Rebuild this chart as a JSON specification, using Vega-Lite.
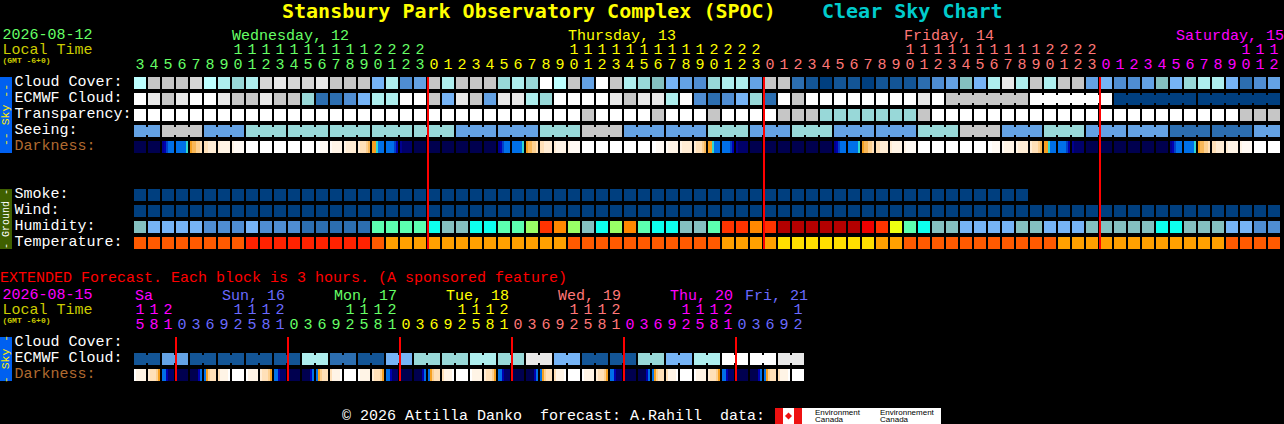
{
"$schema":"https://vega.github.io/schema/vega-lite/v6.json",
"width":1284,"height":424,"autosize":{"type":"none"},"padding":0,"background":"#000000",
"config":{"view":{"stroke":null},"text":{"font":"Liberation Mono","fontSize":15,"baseline":"middle"},
"axis":{"domain":false,"ticks":false,"grid":false,"labelPadding":0,"labelBound":false,"labelFlush":false,"labelOverlap":false,"labelLimit":0,"labelFont":"Liberation Mono","labelFontSize":15,"labelAngle":0,"labelBaseline":"middle","labelFontWeight":"normal"}},
"encoding":{"color":{"field":"lv","type":"nominal","legend":null,"scale":{
"domain":["a","b","c","d","e","f","g","h","i","j","k","l","m","n","cy","mi","li","ro","or","dr","rd","yl","t1","t2","t3","t4","n0","n1","n2","n3","n4","bl","ci","o0","o1","o2","o3","o4","o5","o6","w","green","yellow","salmon","magenta","violet","cyan"],
"range":["#ffffff","#e8e8e8","#d6d6d6","#c6c6c6","#bdffff","#aeeeee","#98d8d8","#84c0c0","#76b4f6","#64a2e4","#4f8dd2","#2c6eb0","#135596","#003f7f","#0dffee","#5cffb0","#99ff66","#ff3300","#ff8800","#b30000","#ee0000","#eeff11","#ff5a00","#ff2200","#ffa000","#ffdf00","#00004f","#00006a","#000090","#0000b0","#0040c8","#0070e8","#30d8d0","#f5a020","#f9b858","#fdd090","#ffe0b8","#ffecd4","#fff4e6","#fffaf4","#ffffff","#66ff66","#ffff00","#ff7777","#ff00ff","#6a6aff","#00cccc"]}}},
"datasets":{
"cells":[
{"row":"Cloud","col":0,"lv":"e"},{"row":"Cloud","col":1,"lv":"d"},{"row":"Cloud","col":2,"lv":"d"},{"row":"Cloud","col":3,"lv":"d"},{"row":"Cloud","col":4,"lv":"c"},{"row":"Cloud","col":5,"lv":"e"},{"row":"Cloud","col":6,"lv":"f"},{"row":"Cloud","col":7,"lv":"g"},{"row":"Cloud","col":8,"lv":"f"},{"row":"Cloud","col":9,"lv":"c"},{"row":"Cloud","col":10,"lv":"b"},{"row":"Cloud","col":11,"lv":"c"},{"row":"Cloud","col":12,"lv":"c"},{"row":"Cloud","col":13,"lv":"b"},{"row":"Cloud","col":14,"lv":"d"},{"row":"Cloud","col":15,"lv":"d"},{"row":"Cloud","col":16,"lv":"d"},{"row":"Cloud","col":17,"lv":"i"},{"row":"Cloud","col":18,"lv":"f"},{"row":"Cloud","col":19,"lv":"k"},{"row":"Cloud","col":20,"lv":"j"},
{"row":"Cloud","col":21,"lv":"d"},{"row":"Cloud","col":22,"lv":"f"},{"row":"Cloud","col":23,"lv":"d"},{"row":"Cloud","col":24,"lv":"d"},{"row":"Cloud","col":25,"lv":"d"},{"row":"Cloud","col":26,"lv":"g"},{"row":"Cloud","col":27,"lv":"f"},{"row":"Cloud","col":28,"lv":"g"},{"row":"Cloud","col":29,"lv":"a"},{"row":"Cloud","col":30,"lv":"e"},{"row":"Cloud","col":31,"lv":"d"},{"row":"Cloud","col":32,"lv":"j"},{"row":"Cloud","col":33,"lv":"a"},{"row":"Cloud","col":34,"lv":"d"},{"row":"Cloud","col":35,"lv":"f"},{"row":"Cloud","col":36,"lv":"g"},{"row":"Cloud","col":37,"lv":"h"},{"row":"Cloud","col":38,"lv":"i"},{"row":"Cloud","col":39,"lv":"j"},{"row":"Cloud","col":40,"lv":"k"},{"row":"Cloud","col":41,"lv":"g"},{"row":"Cloud","col":42,"lv":"f"},{"row":"Cloud","col":43,"lv":"f"},{"row":"Cloud","col":44,"lv":"j"},
{"row":"Cloud","col":45,"lv":"d"},{"row":"Cloud","col":46,"lv":"d"},{"row":"Cloud","col":47,"lv":"l"},{"row":"Cloud","col":48,"lv":"m"},{"row":"Cloud","col":49,"lv":"n"},{"row":"Cloud","col":50,"lv":"m"},{"row":"Cloud","col":51,"lv":"m"},{"row":"Cloud","col":52,"lv":"n"},{"row":"Cloud","col":53,"lv":"m"},{"row":"Cloud","col":54,"lv":"m"},{"row":"Cloud","col":55,"lv":"m"},{"row":"Cloud","col":56,"lv":"l"},{"row":"Cloud","col":57,"lv":"k"},{"row":"Cloud","col":58,"lv":"j"},{"row":"Cloud","col":59,"lv":"h"},{"row":"Cloud","col":60,"lv":"i"},{"row":"Cloud","col":61,"lv":"f"},{"row":"Cloud","col":62,"lv":"b"},{"row":"Cloud","col":63,"lv":"f"},{"row":"Cloud","col":64,"lv":"d"},{"row":"Cloud","col":65,"lv":"f"},{"row":"Cloud","col":66,"lv":"d"},{"row":"Cloud","col":67,"lv":"d"},{"row":"Cloud","col":68,"lv":"j"},{"row":"Cloud","col":69,"lv":"i"},{"row":"Cloud","col":70,"lv":"k"},{"row":"Cloud","col":71,"lv":"k"},{"row":"Cloud","col":72,"lv":"j"},{"row":"Cloud","col":73,"lv":"h"},{"row":"Cloud","col":74,"lv":"i"},{"row":"Cloud","col":75,"lv":"g"},{"row":"Cloud","col":76,"lv":"f"},{"row":"Cloud","col":77,"lv":"f"},{"row":"Cloud","col":78,"lv":"i"},{"row":"Cloud","col":79,"lv":"l"},{"row":"Cloud","col":80,"lv":"k"},{"row":"Cloud","col":81,"lv":"j"},
{"row":"ECMWF","col":0,"lv":"a"},{"row":"ECMWF","col":1,"lv":"b"},{"row":"ECMWF","col":2,"lv":"d"},{"row":"ECMWF","col":3,"lv":"b"},{"row":"ECMWF","col":4,"lv":"a"},{"row":"ECMWF","col":5,"lv":"a"},{"row":"ECMWF","col":6,"lv":"b"},{"row":"ECMWF","col":7,"lv":"d"},{"row":"ECMWF","col":8,"lv":"d"},{"row":"ECMWF","col":9,"lv":"b"},{"row":"ECMWF","col":10,"lv":"d"},{"row":"ECMWF","col":11,"lv":"d"},{"row":"ECMWF","col":12,"lv":"g"},{"row":"ECMWF","col":13,"lv":"l"},{"row":"ECMWF","col":14,"lv":"l"},{"row":"ECMWF","col":15,"lv":"k"},{"row":"ECMWF","col":16,"lv":"i"},{"row":"ECMWF","col":17,"lv":"f"},{"row":"ECMWF","col":18,"lv":"f"},{"row":"ECMWF","col":19,"lv":"a"},{"row":"ECMWF","col":20,"lv":"a"},
{"row":"ECMWF","col":21,"lv":"d"},{"row":"ECMWF","col":22,"lv":"i"},{"row":"ECMWF","col":23,"lv":"b"},{"row":"ECMWF","col":24,"lv":"d"},{"row":"ECMWF","col":25,"lv":"j"},{"row":"ECMWF","col":26,"lv":"b"},{"row":"ECMWF","col":27,"lv":"b"},{"row":"ECMWF","col":28,"lv":"f"},{"row":"ECMWF","col":29,"lv":"g"},{"row":"ECMWF","col":30,"lv":"a"},{"row":"ECMWF","col":31,"lv":"a"},{"row":"ECMWF","col":32,"lv":"a"},{"row":"ECMWF","col":33,"lv":"a"},{"row":"ECMWF","col":34,"lv":"b"},{"row":"ECMWF","col":35,"lv":"d"},{"row":"ECMWF","col":36,"lv":"b"},{"row":"ECMWF","col":37,"lv":"b"},{"row":"ECMWF","col":38,"lv":"f"},{"row":"ECMWF","col":39,"lv":"a"},{"row":"ECMWF","col":40,"lv":"k"},{"row":"ECMWF","col":41,"lv":"l"},{"row":"ECMWF","col":42,"lv":"k"},{"row":"ECMWF","col":43,"lv":"i"},{"row":"ECMWF","col":44,"lv":"g"},
{"row":"ECMWF","col":45,"lv":"l"},{"row":"ECMWF","col":46,"lv":"a"},{"row":"ECMWF","col":47,"lv":"d"},{"row":"ECMWF","col":48,"lv":"a"},{"row":"ECMWF","col":49,"lv":"a"},{"row":"ECMWF","col":50,"lv":"a"},{"row":"ECMWF","col":51,"lv":"a"},{"row":"ECMWF","col":52,"lv":"a"},{"row":"ECMWF","col":53,"lv":"a"},{"row":"ECMWF","col":54,"lv":"a"},{"row":"ECMWF","col":55,"lv":"a"},{"row":"ECMWF","col":56,"lv":"b"},{"row":"ECMWF","col":57,"lv":"a"},{"row":"ECMWF","col":58,"lv":"d"},{"row":"ECMWF","col":59,"lv":"d"},{"row":"ECMWF","col":60,"lv":"d"},{"row":"ECMWF","col":61,"lv":"d"},{"row":"ECMWF","col":62,"lv":"d"},{"row":"ECMWF","col":63,"lv":"d"},{"row":"ECMWF","col":64,"lv":"a"},{"row":"ECMWF","col":65,"lv":"a"},{"row":"ECMWF","col":66,"lv":"a"},{"row":"ECMWF","col":67,"lv":"a"},{"row":"ECMWF","col":68,"lv":"a"},{"row":"ECMWF","col":69,"lv":"a"},{"row":"ECMWF","col":70,"lv":"n"},{"row":"ECMWF","col":71,"lv":"n"},{"row":"ECMWF","col":72,"lv":"n"},{"row":"ECMWF","col":73,"lv":"n"},{"row":"ECMWF","col":74,"lv":"n"},{"row":"ECMWF","col":75,"lv":"n"},{"row":"ECMWF","col":76,"lv":"n"},{"row":"ECMWF","col":77,"lv":"n"},{"row":"ECMWF","col":78,"lv":"n"},{"row":"ECMWF","col":79,"lv":"n"},{"row":"ECMWF","col":80,"lv":"n"},{"row":"ECMWF","col":81,"lv":"n"},
{"row":"Transp","col":0,"lv":"a"},{"row":"Transp","col":1,"lv":"a"},{"row":"Transp","col":2,"lv":"a"},{"row":"Transp","col":3,"lv":"a"},{"row":"Transp","col":4,"lv":"a"},{"row":"Transp","col":5,"lv":"a"},{"row":"Transp","col":6,"lv":"a"},{"row":"Transp","col":7,"lv":"a"},{"row":"Transp","col":8,"lv":"a"},{"row":"Transp","col":9,"lv":"a"},{"row":"Transp","col":10,"lv":"a"},{"row":"Transp","col":11,"lv":"a"},{"row":"Transp","col":12,"lv":"a"},{"row":"Transp","col":13,"lv":"a"},{"row":"Transp","col":14,"lv":"a"},{"row":"Transp","col":15,"lv":"a"},{"row":"Transp","col":16,"lv":"a"},{"row":"Transp","col":17,"lv":"a"},{"row":"Transp","col":18,"lv":"a"},{"row":"Transp","col":19,"lv":"a"},{"row":"Transp","col":20,"lv":"a"},{"row":"Transp","col":21,"lv":"a"},{"row":"Transp","col":22,"lv":"a"},{"row":"Transp","col":23,"lv":"a"},{"row":"Transp","col":24,"lv":"a"},{"row":"Transp","col":25,"lv":"a"},{"row":"Transp","col":26,"lv":"a"},{"row":"Transp","col":27,"lv":"a"},{"row":"Transp","col":28,"lv":"a"},{"row":"Transp","col":29,"lv":"a"},{"row":"Transp","col":30,"lv":"a"},{"row":"Transp","col":31,"lv":"a"},{"row":"Transp","col":32,"lv":"d"},{"row":"Transp","col":33,"lv":"a"},{"row":"Transp","col":34,"lv":"a"},{"row":"Transp","col":35,"lv":"a"},{"row":"Transp","col":36,"lv":"a"},{"row":"Transp","col":37,"lv":"d"},{"row":"Transp","col":38,"lv":"a"},{"row":"Transp","col":39,"lv":"a"},{"row":"Transp","col":40,"lv":"a"},{"row":"Transp","col":41,"lv":"d"},{"row":"Transp","col":42,"lv":"a"},{"row":"Transp","col":43,"lv":"a"},{"row":"Transp","col":44,"lv":"a"},{"row":"Transp","col":45,"lv":"a"},{"row":"Transp","col":46,"lv":"d"},{"row":"Transp","col":47,"lv":"d"},{"row":"Transp","col":48,"lv":"d"},{"row":"Transp","col":49,"lv":"g"},{"row":"Transp","col":50,"lv":"g"},{"row":"Transp","col":51,"lv":"g"},{"row":"Transp","col":52,"lv":"g"},{"row":"Transp","col":53,"lv":"g"},{"row":"Transp","col":54,"lv":"g"},{"row":"Transp","col":55,"lv":"g"},{"row":"Transp","col":56,"lv":"d"},{"row":"Transp","col":57,"lv":"a"},{"row":"Transp","col":58,"lv":"a"},{"row":"Transp","col":59,"lv":"a"},{"row":"Transp","col":60,"lv":"a"},{"row":"Transp","col":61,"lv":"a"},{"row":"Transp","col":62,"lv":"a"},{"row":"Transp","col":63,"lv":"a"},{"row":"Transp","col":64,"lv":"a"},{"row":"Transp","col":65,"lv":"a"},{"row":"Transp","col":66,"lv":"a"},{"row":"Transp","col":67,"lv":"a"},{"row":"Transp","col":68,"lv":"a"},{"row":"Transp","col":69,"lv":"a"},{"row":"Transp","col":70,"lv":"a"},{"row":"Transp","col":71,"lv":"a"},{"row":"Transp","col":72,"lv":"a"},{"row":"Transp","col":73,"lv":"a"},{"row":"Transp","col":74,"lv":"a"},{"row":"Transp","col":75,"lv":"a"},{"row":"Transp","col":76,"lv":"a"},{"row":"Transp","col":77,"lv":"a"},{"row":"Transp","col":78,"lv":"a"},{"row":"Transp","col":79,"lv":"d"},{"row":"Transp","col":80,"lv":"d"},{"row":"Transp","col":81,"lv":"d"},
{"row":"Seeing","col":0,"lv":"j"},{"row":"Seeing","col":1,"lv":"j"},{"row":"Seeing","col":2,"lv":"d"},{"row":"Seeing","col":3,"lv":"d"},{"row":"Seeing","col":4,"lv":"d"},{"row":"Seeing","col":5,"lv":"j"},{"row":"Seeing","col":6,"lv":"j"},{"row":"Seeing","col":7,"lv":"j"},{"row":"Seeing","col":8,"lv":"g"},{"row":"Seeing","col":9,"lv":"g"},{"row":"Seeing","col":10,"lv":"g"},{"row":"Seeing","col":11,"lv":"g"},{"row":"Seeing","col":12,"lv":"g"},{"row":"Seeing","col":13,"lv":"g"},{"row":"Seeing","col":14,"lv":"g"},{"row":"Seeing","col":15,"lv":"g"},{"row":"Seeing","col":16,"lv":"g"},{"row":"Seeing","col":17,"lv":"g"},{"row":"Seeing","col":18,"lv":"g"},{"row":"Seeing","col":19,"lv":"g"},{"row":"Seeing","col":20,"lv":"g"},{"row":"Seeing","col":21,"lv":"g"},{"row":"Seeing","col":22,"lv":"g"},{"row":"Seeing","col":23,"lv":"j"},{"row":"Seeing","col":24,"lv":"j"},{"row":"Seeing","col":25,"lv":"j"},{"row":"Seeing","col":26,"lv":"j"},{"row":"Seeing","col":27,"lv":"j"},{"row":"Seeing","col":28,"lv":"j"},{"row":"Seeing","col":29,"lv":"g"},{"row":"Seeing","col":30,"lv":"g"},{"row":"Seeing","col":31,"lv":"g"},{"row":"Seeing","col":32,"lv":"d"},{"row":"Seeing","col":33,"lv":"d"},{"row":"Seeing","col":34,"lv":"d"},{"row":"Seeing","col":35,"lv":"j"},{"row":"Seeing","col":36,"lv":"j"},{"row":"Seeing","col":37,"lv":"j"},{"row":"Seeing","col":38,"lv":"j"},{"row":"Seeing","col":39,"lv":"j"},{"row":"Seeing","col":40,"lv":"j"},{"row":"Seeing","col":41,"lv":"g"},{"row":"Seeing","col":42,"lv":"g"},{"row":"Seeing","col":43,"lv":"g"},{"row":"Seeing","col":44,"lv":"j"},{"row":"Seeing","col":45,"lv":"j"},{"row":"Seeing","col":46,"lv":"j"},{"row":"Seeing","col":47,"lv":"g"},{"row":"Seeing","col":48,"lv":"g"},{"row":"Seeing","col":49,"lv":"g"},{"row":"Seeing","col":50,"lv":"j"},{"row":"Seeing","col":51,"lv":"j"},{"row":"Seeing","col":52,"lv":"j"},{"row":"Seeing","col":53,"lv":"j"},{"row":"Seeing","col":54,"lv":"j"},{"row":"Seeing","col":55,"lv":"j"},{"row":"Seeing","col":56,"lv":"g"},{"row":"Seeing","col":57,"lv":"g"},{"row":"Seeing","col":58,"lv":"g"},{"row":"Seeing","col":59,"lv":"d"},{"row":"Seeing","col":60,"lv":"d"},{"row":"Seeing","col":61,"lv":"d"},{"row":"Seeing","col":62,"lv":"j"},{"row":"Seeing","col":63,"lv":"j"},{"row":"Seeing","col":64,"lv":"j"},{"row":"Seeing","col":65,"lv":"g"},{"row":"Seeing","col":66,"lv":"g"},{"row":"Seeing","col":67,"lv":"g"},{"row":"Seeing","col":68,"lv":"j"},{"row":"Seeing","col":69,"lv":"j"},{"row":"Seeing","col":70,"lv":"j"},{"row":"Seeing","col":71,"lv":"j"},{"row":"Seeing","col":72,"lv":"j"},{"row":"Seeing","col":73,"lv":"j"},{"row":"Seeing","col":74,"lv":"l"},{"row":"Seeing","col":75,"lv":"l"},{"row":"Seeing","col":76,"lv":"l"},{"row":"Seeing","col":77,"lv":"l"},{"row":"Seeing","col":78,"lv":"l"},{"row":"Seeing","col":79,"lv":"l"},{"row":"Seeing","col":80,"lv":"j"},{"row":"Seeing","col":81,"lv":"j"},
{"row":"Dark","col":0,"lv":"n0"},{"row":"Dark","col":1,"lv":"n0"},{"row":"Dark","col":2,"lv":"bl"},{"row":"Dark","col":3,"lv":"bl"},{"row":"Dark","col":4,"lv":"o3"},{"row":"Dark","col":5,"lv":"o4"},{"row":"Dark","col":6,"lv":"o5"},{"row":"Dark","col":7,"lv":"o6"},{"row":"Dark","col":8,"lv":"w"},{"row":"Dark","col":9,"lv":"w"},{"row":"Dark","col":10,"lv":"w"},{"row":"Dark","col":11,"lv":"w"},{"row":"Dark","col":12,"lv":"w"},{"row":"Dark","col":13,"lv":"o6"},{"row":"Dark","col":14,"lv":"o5"},{"row":"Dark","col":15,"lv":"o4"},{"row":"Dark","col":16,"lv":"o3"},{"row":"Dark","col":17,"lv":"bl"},{"row":"Dark","col":18,"lv":"bl"},{"row":"Dark","col":19,"lv":"n1"},{"row":"Dark","col":20,"lv":"n0"},{"row":"Dark","col":21,"lv":"n0"},{"row":"Dark","col":22,"lv":"n0"},{"row":"Dark","col":23,"lv":"n0"},{"row":"Dark","col":24,"lv":"n0"},{"row":"Dark","col":25,"lv":"n0"},{"row":"Dark","col":26,"lv":"bl"},{"row":"Dark","col":27,"lv":"bl"},{"row":"Dark","col":28,"lv":"o3"},{"row":"Dark","col":29,"lv":"o4"},{"row":"Dark","col":30,"lv":"o5"},{"row":"Dark","col":31,"lv":"o6"},{"row":"Dark","col":32,"lv":"w"},{"row":"Dark","col":33,"lv":"w"},{"row":"Dark","col":34,"lv":"w"},{"row":"Dark","col":35,"lv":"w"},{"row":"Dark","col":36,"lv":"w"},{"row":"Dark","col":37,"lv":"o6"},{"row":"Dark","col":38,"lv":"o5"},{"row":"Dark","col":39,"lv":"o4"},{"row":"Dark","col":40,"lv":"o3"},{"row":"Dark","col":41,"lv":"bl"},{"row":"Dark","col":42,"lv":"bl"},{"row":"Dark","col":43,"lv":"n1"},{"row":"Dark","col":44,"lv":"n0"},{"row":"Dark","col":45,"lv":"n0"},{"row":"Dark","col":46,"lv":"n0"},{"row":"Dark","col":47,"lv":"n0"},{"row":"Dark","col":48,"lv":"n0"},{"row":"Dark","col":49,"lv":"n0"},{"row":"Dark","col":50,"lv":"bl"},{"row":"Dark","col":51,"lv":"bl"},{"row":"Dark","col":52,"lv":"o3"},{"row":"Dark","col":53,"lv":"o4"},{"row":"Dark","col":54,"lv":"o5"},{"row":"Dark","col":55,"lv":"o6"},{"row":"Dark","col":56,"lv":"w"},{"row":"Dark","col":57,"lv":"w"},{"row":"Dark","col":58,"lv":"w"},{"row":"Dark","col":59,"lv":"w"},{"row":"Dark","col":60,"lv":"w"},{"row":"Dark","col":61,"lv":"o6"},{"row":"Dark","col":62,"lv":"o5"},{"row":"Dark","col":63,"lv":"o4"},{"row":"Dark","col":64,"lv":"o3"},{"row":"Dark","col":65,"lv":"bl"},{"row":"Dark","col":66,"lv":"bl"},{"row":"Dark","col":67,"lv":"n1"},{"row":"Dark","col":68,"lv":"n0"},{"row":"Dark","col":69,"lv":"n0"},{"row":"Dark","col":70,"lv":"n0"},{"row":"Dark","col":71,"lv":"n0"},{"row":"Dark","col":72,"lv":"n0"},{"row":"Dark","col":73,"lv":"n0"},{"row":"Dark","col":74,"lv":"bl"},{"row":"Dark","col":75,"lv":"bl"},{"row":"Dark","col":76,"lv":"o3"},{"row":"Dark","col":77,"lv":"o4"},{"row":"Dark","col":78,"lv":"o5"},{"row":"Dark","col":79,"lv":"o6"},{"row":"Dark","col":80,"lv":"w"},{"row":"Dark","col":81,"lv":"w"},
{"row":"Smoke","col":0,"lv":"n"},{"row":"Smoke","col":1,"lv":"n"},{"row":"Smoke","col":2,"lv":"n"},{"row":"Smoke","col":3,"lv":"n"},{"row":"Smoke","col":4,"lv":"n"},{"row":"Smoke","col":5,"lv":"n"},{"row":"Smoke","col":6,"lv":"n"},{"row":"Smoke","col":7,"lv":"n"},{"row":"Smoke","col":8,"lv":"n"},{"row":"Smoke","col":9,"lv":"n"},{"row":"Smoke","col":10,"lv":"n"},{"row":"Smoke","col":11,"lv":"n"},{"row":"Smoke","col":12,"lv":"n"},{"row":"Smoke","col":13,"lv":"n"},{"row":"Smoke","col":14,"lv":"n"},{"row":"Smoke","col":15,"lv":"n"},{"row":"Smoke","col":16,"lv":"n"},{"row":"Smoke","col":17,"lv":"n"},{"row":"Smoke","col":18,"lv":"n"},{"row":"Smoke","col":19,"lv":"n"},{"row":"Smoke","col":20,"lv":"n"},{"row":"Smoke","col":21,"lv":"n"},{"row":"Smoke","col":22,"lv":"n"},{"row":"Smoke","col":23,"lv":"n"},{"row":"Smoke","col":24,"lv":"n"},{"row":"Smoke","col":25,"lv":"n"},{"row":"Smoke","col":26,"lv":"n"},{"row":"Smoke","col":27,"lv":"n"},{"row":"Smoke","col":28,"lv":"n"},{"row":"Smoke","col":29,"lv":"n"},{"row":"Smoke","col":30,"lv":"n"},{"row":"Smoke","col":31,"lv":"n"},{"row":"Smoke","col":32,"lv":"n"},{"row":"Smoke","col":33,"lv":"n"},{"row":"Smoke","col":34,"lv":"n"},{"row":"Smoke","col":35,"lv":"n"},{"row":"Smoke","col":36,"lv":"n"},{"row":"Smoke","col":37,"lv":"n"},{"row":"Smoke","col":38,"lv":"n"},{"row":"Smoke","col":39,"lv":"n"},{"row":"Smoke","col":40,"lv":"n"},{"row":"Smoke","col":41,"lv":"n"},{"row":"Smoke","col":42,"lv":"n"},{"row":"Smoke","col":43,"lv":"n"},{"row":"Smoke","col":44,"lv":"n"},{"row":"Smoke","col":45,"lv":"n"},{"row":"Smoke","col":46,"lv":"n"},{"row":"Smoke","col":47,"lv":"n"},{"row":"Smoke","col":48,"lv":"n"},{"row":"Smoke","col":49,"lv":"n"},{"row":"Smoke","col":50,"lv":"n"},{"row":"Smoke","col":51,"lv":"n"},{"row":"Smoke","col":52,"lv":"n"},{"row":"Smoke","col":53,"lv":"n"},{"row":"Smoke","col":54,"lv":"n"},{"row":"Smoke","col":55,"lv":"n"},{"row":"Smoke","col":56,"lv":"n"},{"row":"Smoke","col":57,"lv":"n"},{"row":"Smoke","col":58,"lv":"n"},{"row":"Smoke","col":59,"lv":"n"},{"row":"Smoke","col":60,"lv":"n"},{"row":"Smoke","col":61,"lv":"n"},{"row":"Smoke","col":62,"lv":"n"},{"row":"Smoke","col":63,"lv":"n"},
{"row":"Wind","col":0,"lv":"n"},{"row":"Wind","col":1,"lv":"n"},{"row":"Wind","col":2,"lv":"n"},{"row":"Wind","col":3,"lv":"n"},{"row":"Wind","col":4,"lv":"n"},{"row":"Wind","col":5,"lv":"n"},{"row":"Wind","col":6,"lv":"n"},{"row":"Wind","col":7,"lv":"n"},{"row":"Wind","col":8,"lv":"n"},{"row":"Wind","col":9,"lv":"n"},{"row":"Wind","col":10,"lv":"n"},{"row":"Wind","col":11,"lv":"n"},{"row":"Wind","col":12,"lv":"n"},{"row":"Wind","col":13,"lv":"n"},{"row":"Wind","col":14,"lv":"n"},{"row":"Wind","col":15,"lv":"n"},{"row":"Wind","col":16,"lv":"n"},{"row":"Wind","col":17,"lv":"n"},{"row":"Wind","col":18,"lv":"n"},{"row":"Wind","col":19,"lv":"n"},{"row":"Wind","col":20,"lv":"n"},{"row":"Wind","col":21,"lv":"n"},{"row":"Wind","col":22,"lv":"n"},{"row":"Wind","col":23,"lv":"n"},{"row":"Wind","col":24,"lv":"n"},{"row":"Wind","col":25,"lv":"n"},{"row":"Wind","col":26,"lv":"n"},{"row":"Wind","col":27,"lv":"n"},{"row":"Wind","col":28,"lv":"n"},{"row":"Wind","col":29,"lv":"n"},{"row":"Wind","col":30,"lv":"n"},{"row":"Wind","col":31,"lv":"n"},{"row":"Wind","col":32,"lv":"n"},{"row":"Wind","col":33,"lv":"n"},{"row":"Wind","col":34,"lv":"n"},{"row":"Wind","col":35,"lv":"n"},{"row":"Wind","col":36,"lv":"n"},{"row":"Wind","col":37,"lv":"n"},{"row":"Wind","col":38,"lv":"n"},{"row":"Wind","col":39,"lv":"n"},{"row":"Wind","col":40,"lv":"n"},{"row":"Wind","col":41,"lv":"n"},{"row":"Wind","col":42,"lv":"n"},{"row":"Wind","col":43,"lv":"n"},{"row":"Wind","col":44,"lv":"n"},{"row":"Wind","col":45,"lv":"n"},{"row":"Wind","col":46,"lv":"n"},{"row":"Wind","col":47,"lv":"n"},{"row":"Wind","col":48,"lv":"n"},{"row":"Wind","col":49,"lv":"n"},{"row":"Wind","col":50,"lv":"n"},{"row":"Wind","col":51,"lv":"n"},{"row":"Wind","col":52,"lv":"n"},{"row":"Wind","col":53,"lv":"n"},{"row":"Wind","col":54,"lv":"n"},{"row":"Wind","col":55,"lv":"n"},{"row":"Wind","col":56,"lv":"n"},{"row":"Wind","col":57,"lv":"n"},{"row":"Wind","col":58,"lv":"n"},{"row":"Wind","col":59,"lv":"n"},{"row":"Wind","col":60,"lv":"n"},{"row":"Wind","col":61,"lv":"n"},{"row":"Wind","col":62,"lv":"n"},{"row":"Wind","col":63,"lv":"n"},{"row":"Wind","col":64,"lv":"n"},{"row":"Wind","col":65,"lv":"n"},{"row":"Wind","col":66,"lv":"n"},{"row":"Wind","col":67,"lv":"n"},{"row":"Wind","col":68,"lv":"n"},{"row":"Wind","col":69,"lv":"n"},{"row":"Wind","col":70,"lv":"n"},{"row":"Wind","col":71,"lv":"n"},{"row":"Wind","col":72,"lv":"n"},{"row":"Wind","col":73,"lv":"n"},{"row":"Wind","col":74,"lv":"n"},{"row":"Wind","col":75,"lv":"n"},{"row":"Wind","col":76,"lv":"n"},{"row":"Wind","col":77,"lv":"n"},{"row":"Wind","col":78,"lv":"n"},{"row":"Wind","col":79,"lv":"n"},{"row":"Wind","col":80,"lv":"n"},{"row":"Wind","col":81,"lv":"n"},
{"row":"Humid","col":0,"lv":"h"},{"row":"Humid","col":1,"lv":"i"},{"row":"Humid","col":2,"lv":"i"},{"row":"Humid","col":3,"lv":"i"},{"row":"Humid","col":4,"lv":"i"},{"row":"Humid","col":5,"lv":"k"},{"row":"Humid","col":6,"lv":"k"},{"row":"Humid","col":7,"lv":"k"},{"row":"Humid","col":8,"lv":"i"},{"row":"Humid","col":9,"lv":"k"},{"row":"Humid","col":10,"lv":"k"},{"row":"Humid","col":11,"lv":"k"},{"row":"Humid","col":12,"lv":"l"},{"row":"Humid","col":13,"lv":"l"},{"row":"Humid","col":14,"lv":"l"},{"row":"Humid","col":15,"lv":"l"},{"row":"Humid","col":16,"lv":"l"},{"row":"Humid","col":17,"lv":"mi"},{"row":"Humid","col":18,"lv":"mi"},{"row":"Humid","col":19,"lv":"mi"},{"row":"Humid","col":20,"lv":"mi"},{"row":"Humid","col":21,"lv":"cy"},{"row":"Humid","col":22,"lv":"h"},{"row":"Humid","col":23,"lv":"h"},{"row":"Humid","col":24,"lv":"cy"},{"row":"Humid","col":25,"lv":"cy"},{"row":"Humid","col":26,"lv":"mi"},{"row":"Humid","col":27,"lv":"mi"},{"row":"Humid","col":28,"lv":"li"},{"row":"Humid","col":29,"lv":"ro"},{"row":"Humid","col":30,"lv":"or"},{"row":"Humid","col":31,"lv":"li"},{"row":"Humid","col":32,"lv":"h"},{"row":"Humid","col":33,"lv":"cy"},{"row":"Humid","col":34,"lv":"li"},{"row":"Humid","col":35,"lv":"or"},{"row":"Humid","col":36,"lv":"mi"},{"row":"Humid","col":37,"lv":"cy"},{"row":"Humid","col":38,"lv":"cy"},{"row":"Humid","col":39,"lv":"h"},{"row":"Humid","col":40,"lv":"h"},{"row":"Humid","col":41,"lv":"mi"},{"row":"Humid","col":42,"lv":"ro"},{"row":"Humid","col":43,"lv":"ro"},{"row":"Humid","col":44,"lv":"or"},{"row":"Humid","col":45,"lv":"ro"},{"row":"Humid","col":46,"lv":"dr"},{"row":"Humid","col":47,"lv":"dr"},{"row":"Humid","col":48,"lv":"dr"},{"row":"Humid","col":49,"lv":"dr"},{"row":"Humid","col":50,"lv":"dr"},{"row":"Humid","col":51,"lv":"dr"},{"row":"Humid","col":52,"lv":"rd"},{"row":"Humid","col":53,"lv":"ro"},{"row":"Humid","col":54,"lv":"yl"},{"row":"Humid","col":55,"lv":"mi"},{"row":"Humid","col":56,"lv":"cy"},{"row":"Humid","col":57,"lv":"h"},{"row":"Humid","col":58,"lv":"h"},{"row":"Humid","col":59,"lv":"i"},{"row":"Humid","col":60,"lv":"i"},{"row":"Humid","col":61,"lv":"i"},{"row":"Humid","col":62,"lv":"i"},{"row":"Humid","col":63,"lv":"h"},{"row":"Humid","col":64,"lv":"h"},{"row":"Humid","col":65,"lv":"i"},{"row":"Humid","col":66,"lv":"i"},{"row":"Humid","col":67,"lv":"i"},{"row":"Humid","col":68,"lv":"h"},{"row":"Humid","col":69,"lv":"h"},{"row":"Humid","col":70,"lv":"h"},{"row":"Humid","col":71,"lv":"h"},{"row":"Humid","col":72,"lv":"h"},{"row":"Humid","col":73,"lv":"cy"},{"row":"Humid","col":74,"lv":"cy"},{"row":"Humid","col":75,"lv":"h"},{"row":"Humid","col":76,"lv":"h"},{"row":"Humid","col":77,"lv":"h"},{"row":"Humid","col":78,"lv":"i"},{"row":"Humid","col":79,"lv":"i"},{"row":"Humid","col":80,"lv":"k"},{"row":"Humid","col":81,"lv":"k"},
{"row":"Temp","col":0,"lv":"t1"},{"row":"Temp","col":1,"lv":"t1"},{"row":"Temp","col":2,"lv":"t1"},{"row":"Temp","col":3,"lv":"t1"},{"row":"Temp","col":4,"lv":"t1"},{"row":"Temp","col":5,"lv":"t1"},{"row":"Temp","col":6,"lv":"t1"},{"row":"Temp","col":7,"lv":"t1"},{"row":"Temp","col":8,"lv":"t2"},{"row":"Temp","col":9,"lv":"t2"},{"row":"Temp","col":10,"lv":"t2"},{"row":"Temp","col":11,"lv":"t2"},{"row":"Temp","col":12,"lv":"t2"},{"row":"Temp","col":13,"lv":"t2"},{"row":"Temp","col":14,"lv":"t2"},{"row":"Temp","col":15,"lv":"t2"},{"row":"Temp","col":16,"lv":"t2"},{"row":"Temp","col":17,"lv":"t1"},{"row":"Temp","col":18,"lv":"t3"},{"row":"Temp","col":19,"lv":"t3"},{"row":"Temp","col":20,"lv":"t3"},{"row":"Temp","col":21,"lv":"t3"},{"row":"Temp","col":22,"lv":"t3"},{"row":"Temp","col":23,"lv":"t3"},{"row":"Temp","col":24,"lv":"t3"},{"row":"Temp","col":25,"lv":"t3"},{"row":"Temp","col":26,"lv":"t3"},{"row":"Temp","col":27,"lv":"t3"},{"row":"Temp","col":28,"lv":"t3"},{"row":"Temp","col":29,"lv":"t3"},{"row":"Temp","col":30,"lv":"t3"},{"row":"Temp","col":31,"lv":"t1"},{"row":"Temp","col":32,"lv":"t1"},{"row":"Temp","col":33,"lv":"t1"},{"row":"Temp","col":34,"lv":"t1"},{"row":"Temp","col":35,"lv":"t1"},{"row":"Temp","col":36,"lv":"t1"},{"row":"Temp","col":37,"lv":"t1"},{"row":"Temp","col":38,"lv":"t1"},{"row":"Temp","col":39,"lv":"t1"},{"row":"Temp","col":40,"lv":"t1"},{"row":"Temp","col":41,"lv":"t1"},{"row":"Temp","col":42,"lv":"t3"},{"row":"Temp","col":43,"lv":"t3"},{"row":"Temp","col":44,"lv":"t3"},{"row":"Temp","col":45,"lv":"t3"},{"row":"Temp","col":46,"lv":"t4"},{"row":"Temp","col":47,"lv":"t4"},{"row":"Temp","col":48,"lv":"t4"},{"row":"Temp","col":49,"lv":"t4"},{"row":"Temp","col":50,"lv":"t4"},{"row":"Temp","col":51,"lv":"t4"},{"row":"Temp","col":52,"lv":"t4"},{"row":"Temp","col":53,"lv":"t3"},{"row":"Temp","col":54,"lv":"t3"},{"row":"Temp","col":55,"lv":"t1"},{"row":"Temp","col":56,"lv":"t1"},{"row":"Temp","col":57,"lv":"t1"},{"row":"Temp","col":58,"lv":"t1"},{"row":"Temp","col":59,"lv":"t1"},{"row":"Temp","col":60,"lv":"t1"},{"row":"Temp","col":61,"lv":"t1"},{"row":"Temp","col":62,"lv":"t1"},{"row":"Temp","col":63,"lv":"t1"},{"row":"Temp","col":64,"lv":"t1"},{"row":"Temp","col":65,"lv":"t1"},{"row":"Temp","col":66,"lv":"t3"},{"row":"Temp","col":67,"lv":"t3"},{"row":"Temp","col":68,"lv":"t3"},{"row":"Temp","col":69,"lv":"t3"},{"row":"Temp","col":70,"lv":"t3"},{"row":"Temp","col":71,"lv":"t3"},{"row":"Temp","col":72,"lv":"t3"},{"row":"Temp","col":73,"lv":"t3"},{"row":"Temp","col":74,"lv":"t3"},{"row":"Temp","col":75,"lv":"t3"},{"row":"Temp","col":76,"lv":"t3"},{"row":"Temp","col":77,"lv":"t3"},{"row":"Temp","col":78,"lv":"t1"},{"row":"Temp","col":79,"lv":"t1"},{"row":"Temp","col":80,"lv":"t1"},{"row":"Temp","col":81,"lv":"t1"}
],
"joins":[
{"row":"Seeing","col":0,"lv":"j"},{"row":"Seeing","col":2,"lv":"d"},{"row":"Seeing","col":3,"lv":"d"},{"row":"Seeing","col":5,"lv":"j"},{"row":"Seeing","col":6,"lv":"j"},{"row":"Seeing","col":8,"lv":"g"},{"row":"Seeing","col":9,"lv":"g"},{"row":"Seeing","col":11,"lv":"g"},{"row":"Seeing","col":12,"lv":"g"},{"row":"Seeing","col":14,"lv":"g"},{"row":"Seeing","col":15,"lv":"g"},{"row":"Seeing","col":17,"lv":"g"},{"row":"Seeing","col":18,"lv":"g"},{"row":"Seeing","col":20,"lv":"g"},{"row":"Seeing","col":21,"lv":"g"},{"row":"Seeing","col":23,"lv":"j"},{"row":"Seeing","col":24,"lv":"j"},{"row":"Seeing","col":26,"lv":"j"},{"row":"Seeing","col":27,"lv":"j"},{"row":"Seeing","col":29,"lv":"g"},{"row":"Seeing","col":30,"lv":"g"},{"row":"Seeing","col":32,"lv":"d"},{"row":"Seeing","col":33,"lv":"d"},{"row":"Seeing","col":35,"lv":"j"},{"row":"Seeing","col":36,"lv":"j"},{"row":"Seeing","col":38,"lv":"j"},{"row":"Seeing","col":39,"lv":"j"},{"row":"Seeing","col":41,"lv":"g"},{"row":"Seeing","col":42,"lv":"g"},{"row":"Seeing","col":44,"lv":"j"},{"row":"Seeing","col":45,"lv":"j"},{"row":"Seeing","col":47,"lv":"g"},{"row":"Seeing","col":48,"lv":"g"},{"row":"Seeing","col":50,"lv":"j"},{"row":"Seeing","col":51,"lv":"j"},{"row":"Seeing","col":53,"lv":"j"},{"row":"Seeing","col":54,"lv":"j"},{"row":"Seeing","col":56,"lv":"g"},{"row":"Seeing","col":57,"lv":"g"},{"row":"Seeing","col":59,"lv":"d"},{"row":"Seeing","col":60,"lv":"d"},{"row":"Seeing","col":62,"lv":"j"},{"row":"Seeing","col":63,"lv":"j"},{"row":"Seeing","col":65,"lv":"g"},{"row":"Seeing","col":66,"lv":"g"},{"row":"Seeing","col":68,"lv":"j"},{"row":"Seeing","col":69,"lv":"j"},{"row":"Seeing","col":71,"lv":"j"},{"row":"Seeing","col":72,"lv":"j"},{"row":"Seeing","col":74,"lv":"l"},{"row":"Seeing","col":75,"lv":"l"},{"row":"Seeing","col":77,"lv":"l"},{"row":"Seeing","col":78,"lv":"l"},{"row":"Seeing","col":80,"lv":"j"},
{"row":"ECMWF","col":58,"lv":"d"},{"row":"ECMWF","col":59,"lv":"d"},{"row":"ECMWF","col":60,"lv":"d"},{"row":"ECMWF","col":61,"lv":"d"},{"row":"ECMWF","col":62,"lv":"d"},{"row":"ECMWF","col":64,"lv":"a"},{"row":"ECMWF","col":65,"lv":"a"},{"row":"ECMWF","col":66,"lv":"a"},{"row":"ECMWF","col":67,"lv":"a"},{"row":"ECMWF","col":68,"lv":"a"},{"row":"ECMWF","col":70,"lv":"n"},{"row":"ECMWF","col":71,"lv":"n"},{"row":"ECMWF","col":72,"lv":"n"},{"row":"ECMWF","col":73,"lv":"n"},{"row":"ECMWF","col":74,"lv":"n"},{"row":"ECMWF","col":76,"lv":"n"},{"row":"ECMWF","col":77,"lv":"n"},{"row":"ECMWF","col":78,"lv":"n"},{"row":"ECMWF","col":79,"lv":"n"},{"row":"ECMWF","col":80,"lv":"n"}
],
"slices":[
{"row":"Dark","col":2,"slice":0,"lv":"n2"},{"row":"Dark","col":2,"slice":1,"lv":"n3"},{"row":"Dark","col":2,"slice":2,"lv":"n4"},{"row":"Dark","col":3,"slice":5,"lv":"ci"},{"row":"Dark","col":4,"slice":0,"lv":"o0"},{"row":"Dark","col":4,"slice":1,"lv":"o1"},{"row":"Dark","col":4,"slice":2,"lv":"o1"},{"row":"Dark","col":4,"slice":3,"lv":"o2"},{"row":"Dark","col":4,"slice":4,"lv":"o2"},{"row":"Dark","col":5,"slice":0,"lv":"o3"},{"row":"Dark","col":5,"slice":1,"lv":"o3"},{"row":"Dark","col":6,"slice":0,"lv":"o4"},{"row":"Dark","col":7,"slice":0,"lv":"o5"},
{"row":"Dark","col":13,"slice":0,"lv":"w"},{"row":"Dark","col":13,"slice":1,"lv":"w"},{"row":"Dark","col":14,"slice":0,"lv":"o6"},{"row":"Dark","col":15,"slice":0,"lv":"o5"},{"row":"Dark","col":16,"slice":0,"lv":"o4"},{"row":"Dark","col":16,"slice":4,"lv":"o2"},{"row":"Dark","col":16,"slice":5,"lv":"o1"},{"row":"Dark","col":17,"slice":0,"lv":"o0"},{"row":"Dark","col":17,"slice":1,"lv":"o0"},{"row":"Dark","col":17,"slice":2,"lv":"ci"},{"row":"Dark","col":18,"slice":4,"lv":"n4"},{"row":"Dark","col":18,"slice":5,"lv":"n3"},{"row":"Dark","col":19,"slice":0,"lv":"n2"},
{"row":"Dark","col":26,"slice":0,"lv":"n2"},{"row":"Dark","col":26,"slice":1,"lv":"n3"},{"row":"Dark","col":26,"slice":2,"lv":"n4"},{"row":"Dark","col":27,"slice":5,"lv":"ci"},{"row":"Dark","col":28,"slice":0,"lv":"o0"},{"row":"Dark","col":28,"slice":1,"lv":"o1"},{"row":"Dark","col":28,"slice":2,"lv":"o1"},{"row":"Dark","col":28,"slice":3,"lv":"o2"},{"row":"Dark","col":28,"slice":4,"lv":"o2"},{"row":"Dark","col":29,"slice":0,"lv":"o3"},{"row":"Dark","col":29,"slice":1,"lv":"o3"},{"row":"Dark","col":30,"slice":0,"lv":"o4"},{"row":"Dark","col":31,"slice":0,"lv":"o5"},
{"row":"Dark","col":37,"slice":0,"lv":"w"},{"row":"Dark","col":37,"slice":1,"lv":"w"},{"row":"Dark","col":38,"slice":0,"lv":"o6"},{"row":"Dark","col":39,"slice":0,"lv":"o5"},{"row":"Dark","col":40,"slice":0,"lv":"o4"},{"row":"Dark","col":40,"slice":4,"lv":"o2"},{"row":"Dark","col":40,"slice":5,"lv":"o1"},{"row":"Dark","col":41,"slice":0,"lv":"o0"},{"row":"Dark","col":41,"slice":1,"lv":"o0"},{"row":"Dark","col":41,"slice":2,"lv":"ci"},{"row":"Dark","col":42,"slice":4,"lv":"n4"},{"row":"Dark","col":42,"slice":5,"lv":"n3"},{"row":"Dark","col":43,"slice":0,"lv":"n2"},
{"row":"Dark","col":50,"slice":0,"lv":"n2"},{"row":"Dark","col":50,"slice":1,"lv":"n3"},{"row":"Dark","col":50,"slice":2,"lv":"n4"},{"row":"Dark","col":51,"slice":5,"lv":"ci"},{"row":"Dark","col":52,"slice":0,"lv":"o0"},{"row":"Dark","col":52,"slice":1,"lv":"o1"},{"row":"Dark","col":52,"slice":2,"lv":"o1"},{"row":"Dark","col":52,"slice":3,"lv":"o2"},{"row":"Dark","col":52,"slice":4,"lv":"o2"},{"row":"Dark","col":53,"slice":0,"lv":"o3"},{"row":"Dark","col":53,"slice":1,"lv":"o3"},{"row":"Dark","col":54,"slice":0,"lv":"o4"},{"row":"Dark","col":55,"slice":0,"lv":"o5"},
{"row":"Dark","col":61,"slice":0,"lv":"w"},{"row":"Dark","col":61,"slice":1,"lv":"w"},{"row":"Dark","col":62,"slice":0,"lv":"o6"},{"row":"Dark","col":63,"slice":0,"lv":"o5"},{"row":"Dark","col":64,"slice":0,"lv":"o4"},{"row":"Dark","col":64,"slice":4,"lv":"o2"},{"row":"Dark","col":64,"slice":5,"lv":"o1"},{"row":"Dark","col":65,"slice":0,"lv":"o0"},{"row":"Dark","col":65,"slice":1,"lv":"o0"},{"row":"Dark","col":65,"slice":2,"lv":"ci"},{"row":"Dark","col":66,"slice":4,"lv":"n4"},{"row":"Dark","col":66,"slice":5,"lv":"n3"},{"row":"Dark","col":67,"slice":0,"lv":"n2"},
{"row":"Dark","col":74,"slice":0,"lv":"n2"},{"row":"Dark","col":74,"slice":1,"lv":"n3"},{"row":"Dark","col":74,"slice":2,"lv":"n4"},{"row":"Dark","col":75,"slice":5,"lv":"ci"},{"row":"Dark","col":76,"slice":0,"lv":"o0"},{"row":"Dark","col":76,"slice":1,"lv":"o1"},{"row":"Dark","col":76,"slice":2,"lv":"o1"},{"row":"Dark","col":76,"slice":3,"lv":"o2"},{"row":"Dark","col":76,"slice":4,"lv":"o2"},{"row":"Dark","col":77,"slice":0,"lv":"o3"},{"row":"Dark","col":77,"slice":1,"lv":"o3"},{"row":"Dark","col":78,"slice":0,"lv":"o4"},{"row":"Dark","col":79,"slice":0,"lv":"o5"}
],
"extCells":[
{"row":"ECMWF","col":0,"lv":"m"},{"row":"ECMWF","col":1,"lv":"m"},{"row":"ECMWF","col":2,"lv":"j"},{"row":"ECMWF","col":3,"lv":"j"},{"row":"ECMWF","col":4,"lv":"m"},{"row":"ECMWF","col":5,"lv":"m"},{"row":"ECMWF","col":6,"lv":"m"},{"row":"ECMWF","col":7,"lv":"m"},{"row":"ECMWF","col":8,"lv":"m"},{"row":"ECMWF","col":9,"lv":"m"},{"row":"ECMWF","col":10,"lv":"m"},{"row":"ECMWF","col":11,"lv":"m"},{"row":"ECMWF","col":12,"lv":"f"},{"row":"ECMWF","col":13,"lv":"f"},{"row":"ECMWF","col":14,"lv":"l"},{"row":"ECMWF","col":15,"lv":"l"},{"row":"ECMWF","col":16,"lv":"m"},{"row":"ECMWF","col":17,"lv":"m"},{"row":"ECMWF","col":18,"lv":"i"},{"row":"ECMWF","col":19,"lv":"i"},{"row":"ECMWF","col":20,"lv":"g"},{"row":"ECMWF","col":21,"lv":"g"},{"row":"ECMWF","col":22,"lv":"g"},{"row":"ECMWF","col":23,"lv":"g"},{"row":"ECMWF","col":24,"lv":"f"},{"row":"ECMWF","col":25,"lv":"f"},{"row":"ECMWF","col":26,"lv":"g"},{"row":"ECMWF","col":27,"lv":"g"},{"row":"ECMWF","col":28,"lv":"b"},{"row":"ECMWF","col":29,"lv":"b"},{"row":"ECMWF","col":30,"lv":"i"},{"row":"ECMWF","col":31,"lv":"i"},{"row":"ECMWF","col":32,"lv":"m"},{"row":"ECMWF","col":33,"lv":"m"},{"row":"ECMWF","col":34,"lv":"m"},{"row":"ECMWF","col":35,"lv":"m"},{"row":"ECMWF","col":36,"lv":"g"},{"row":"ECMWF","col":37,"lv":"g"},{"row":"ECMWF","col":38,"lv":"i"},{"row":"ECMWF","col":39,"lv":"i"},{"row":"ECMWF","col":40,"lv":"f"},{"row":"ECMWF","col":41,"lv":"f"},{"row":"ECMWF","col":42,"lv":"a"},{"row":"ECMWF","col":43,"lv":"a"},{"row":"ECMWF","col":44,"lv":"a"},{"row":"ECMWF","col":45,"lv":"a"},{"row":"ECMWF","col":46,"lv":"b"},{"row":"ECMWF","col":47,"lv":"b"},
{"row":"Dark","col":0,"lv":"o5"},{"row":"Dark","col":1,"lv":"o3"},{"row":"Dark","col":2,"lv":"n1"},{"row":"Dark","col":3,"lv":"n0"},{"row":"Dark","col":4,"lv":"n0"},{"row":"Dark","col":5,"lv":"o3"},{"row":"Dark","col":6,"lv":"o5"},{"row":"Dark","col":7,"lv":"w"},{"row":"Dark","col":8,"lv":"o5"},{"row":"Dark","col":9,"lv":"o3"},{"row":"Dark","col":10,"lv":"n1"},{"row":"Dark","col":11,"lv":"n0"},{"row":"Dark","col":12,"lv":"n0"},{"row":"Dark","col":13,"lv":"o3"},{"row":"Dark","col":14,"lv":"o5"},{"row":"Dark","col":15,"lv":"w"},{"row":"Dark","col":16,"lv":"o5"},{"row":"Dark","col":17,"lv":"o3"},{"row":"Dark","col":18,"lv":"n1"},{"row":"Dark","col":19,"lv":"n0"},{"row":"Dark","col":20,"lv":"n0"},{"row":"Dark","col":21,"lv":"o3"},{"row":"Dark","col":22,"lv":"o5"},{"row":"Dark","col":23,"lv":"w"},{"row":"Dark","col":24,"lv":"o5"},{"row":"Dark","col":25,"lv":"o3"},{"row":"Dark","col":26,"lv":"n1"},{"row":"Dark","col":27,"lv":"n0"},{"row":"Dark","col":28,"lv":"n0"},{"row":"Dark","col":29,"lv":"o3"},{"row":"Dark","col":30,"lv":"o5"},{"row":"Dark","col":31,"lv":"w"},{"row":"Dark","col":32,"lv":"o5"},{"row":"Dark","col":33,"lv":"o3"},{"row":"Dark","col":34,"lv":"n1"},{"row":"Dark","col":35,"lv":"n0"},{"row":"Dark","col":36,"lv":"n0"},{"row":"Dark","col":37,"lv":"o3"},{"row":"Dark","col":38,"lv":"o5"},{"row":"Dark","col":39,"lv":"w"},{"row":"Dark","col":40,"lv":"o5"},{"row":"Dark","col":41,"lv":"o3"},{"row":"Dark","col":42,"lv":"n1"},{"row":"Dark","col":43,"lv":"n0"},{"row":"Dark","col":44,"lv":"n0"},{"row":"Dark","col":45,"lv":"o3"},{"row":"Dark","col":46,"lv":"o5"},{"row":"Dark","col":47,"lv":"w"}
],
"extJoins":[
{"row":"ECMWF","col":0,"lv":"m"},{"row":"ECMWF","col":2,"lv":"j"},{"row":"ECMWF","col":4,"lv":"m"},{"row":"ECMWF","col":6,"lv":"m"},{"row":"ECMWF","col":8,"lv":"m"},{"row":"ECMWF","col":10,"lv":"m"},{"row":"ECMWF","col":12,"lv":"f"},{"row":"ECMWF","col":14,"lv":"l"},{"row":"ECMWF","col":16,"lv":"m"},{"row":"ECMWF","col":18,"lv":"i"},{"row":"ECMWF","col":20,"lv":"g"},{"row":"ECMWF","col":22,"lv":"g"},{"row":"ECMWF","col":24,"lv":"f"},{"row":"ECMWF","col":26,"lv":"g"},{"row":"ECMWF","col":28,"lv":"b"},{"row":"ECMWF","col":30,"lv":"i"},{"row":"ECMWF","col":32,"lv":"m"},{"row":"ECMWF","col":34,"lv":"m"},{"row":"ECMWF","col":36,"lv":"g"},{"row":"ECMWF","col":38,"lv":"i"},{"row":"ECMWF","col":40,"lv":"f"},{"row":"ECMWF","col":42,"lv":"a"},{"row":"ECMWF","col":44,"lv":"a"},{"row":"ECMWF","col":46,"lv":"b"}
],
"extSlices":[
{"row":"Dark","col":0,"slice":0,"lv":"w"},{"row":"Dark","col":1,"slice":0,"lv":"o4"},{"row":"Dark","col":1,"slice":4,"lv":"o2"},{"row":"Dark","col":1,"slice":5,"lv":"o0"},{"row":"Dark","col":2,"slice":0,"lv":"bl"},{"row":"Dark","col":2,"slice":1,"lv":"bl"},{"row":"Dark","col":2,"slice":2,"lv":"n3"},{"row":"Dark","col":4,"slice":4,"lv":"n3"},{"row":"Dark","col":4,"slice":5,"lv":"bl"},{"row":"Dark","col":5,"slice":0,"lv":"bl"},{"row":"Dark","col":5,"slice":1,"lv":"o0"},{"row":"Dark","col":5,"slice":2,"lv":"o2"},{"row":"Dark","col":6,"slice":0,"lv":"o3"},{"row":"Dark","col":6,"slice":5,"lv":"w"},
{"row":"Dark","col":8,"slice":0,"lv":"w"},{"row":"Dark","col":9,"slice":0,"lv":"o4"},{"row":"Dark","col":9,"slice":4,"lv":"o2"},{"row":"Dark","col":9,"slice":5,"lv":"o0"},{"row":"Dark","col":10,"slice":0,"lv":"bl"},{"row":"Dark","col":10,"slice":1,"lv":"bl"},{"row":"Dark","col":10,"slice":2,"lv":"n3"},{"row":"Dark","col":12,"slice":4,"lv":"n3"},{"row":"Dark","col":12,"slice":5,"lv":"bl"},{"row":"Dark","col":13,"slice":0,"lv":"bl"},{"row":"Dark","col":13,"slice":1,"lv":"o0"},{"row":"Dark","col":13,"slice":2,"lv":"o2"},{"row":"Dark","col":14,"slice":0,"lv":"o3"},{"row":"Dark","col":14,"slice":5,"lv":"w"},
{"row":"Dark","col":16,"slice":0,"lv":"w"},{"row":"Dark","col":17,"slice":0,"lv":"o4"},{"row":"Dark","col":17,"slice":4,"lv":"o2"},{"row":"Dark","col":17,"slice":5,"lv":"o0"},{"row":"Dark","col":18,"slice":0,"lv":"bl"},{"row":"Dark","col":18,"slice":1,"lv":"bl"},{"row":"Dark","col":18,"slice":2,"lv":"n3"},{"row":"Dark","col":20,"slice":4,"lv":"n3"},{"row":"Dark","col":20,"slice":5,"lv":"bl"},{"row":"Dark","col":21,"slice":0,"lv":"bl"},{"row":"Dark","col":21,"slice":1,"lv":"o0"},{"row":"Dark","col":21,"slice":2,"lv":"o2"},{"row":"Dark","col":22,"slice":0,"lv":"o3"},{"row":"Dark","col":22,"slice":5,"lv":"w"},
{"row":"Dark","col":24,"slice":0,"lv":"w"},{"row":"Dark","col":25,"slice":0,"lv":"o4"},{"row":"Dark","col":25,"slice":4,"lv":"o2"},{"row":"Dark","col":25,"slice":5,"lv":"o0"},{"row":"Dark","col":26,"slice":0,"lv":"bl"},{"row":"Dark","col":26,"slice":1,"lv":"bl"},{"row":"Dark","col":26,"slice":2,"lv":"n3"},{"row":"Dark","col":28,"slice":4,"lv":"n3"},{"row":"Dark","col":28,"slice":5,"lv":"bl"},{"row":"Dark","col":29,"slice":0,"lv":"bl"},{"row":"Dark","col":29,"slice":1,"lv":"o0"},{"row":"Dark","col":29,"slice":2,"lv":"o2"},{"row":"Dark","col":30,"slice":0,"lv":"o3"},{"row":"Dark","col":30,"slice":5,"lv":"w"},
{"row":"Dark","col":32,"slice":0,"lv":"w"},{"row":"Dark","col":33,"slice":0,"lv":"o4"},{"row":"Dark","col":33,"slice":4,"lv":"o2"},{"row":"Dark","col":33,"slice":5,"lv":"o0"},{"row":"Dark","col":34,"slice":0,"lv":"bl"},{"row":"Dark","col":34,"slice":1,"lv":"bl"},{"row":"Dark","col":34,"slice":2,"lv":"n3"},{"row":"Dark","col":36,"slice":4,"lv":"n3"},{"row":"Dark","col":36,"slice":5,"lv":"bl"},{"row":"Dark","col":37,"slice":0,"lv":"bl"},{"row":"Dark","col":37,"slice":1,"lv":"o0"},{"row":"Dark","col":37,"slice":2,"lv":"o2"},{"row":"Dark","col":38,"slice":0,"lv":"o3"},{"row":"Dark","col":38,"slice":5,"lv":"w"},
{"row":"Dark","col":40,"slice":0,"lv":"w"},{"row":"Dark","col":41,"slice":0,"lv":"o4"},{"row":"Dark","col":41,"slice":4,"lv":"o2"},{"row":"Dark","col":41,"slice":5,"lv":"o0"},{"row":"Dark","col":42,"slice":0,"lv":"bl"},{"row":"Dark","col":42,"slice":1,"lv":"bl"},{"row":"Dark","col":42,"slice":2,"lv":"n3"},{"row":"Dark","col":44,"slice":4,"lv":"n3"},{"row":"Dark","col":44,"slice":5,"lv":"bl"},{"row":"Dark","col":45,"slice":0,"lv":"bl"},{"row":"Dark","col":45,"slice":1,"lv":"o0"},{"row":"Dark","col":45,"slice":2,"lv":"o2"},{"row":"Dark","col":46,"slice":0,"lv":"o3"},{"row":"Dark","col":46,"slice":5,"lv":"w"}
]
},
"resolve":{"scale":{"x":"independent","y":"independent"},"axis":{"x":"independent","y":"independent"}},
"layer":[
{"resolve":{"axis":{"x":"independent","y":"independent"}},
"encoding":{"x":{"field":"col","type":"ordinal","axis":null,"scale":{"type":"band","domain":[0,1,2,3,4,5,6,7,8,9,10,11,12,13,14,15,16,17,18,19,20,21,22,23,24,25,26,27,28,29,30,31,32,33,34,35,36,37,38,39,40,41,42,43,44,45,46,47,48,49,50,51,52,53,54,55,56,57,58,59,60,61,62,63,64,65,66,67,68,69,70,71,72,73,74,75,76,77,78,79,80,81],"range":[134,1280],"paddingInner":0.142857,"paddingOuter":0}},
"y":{"field":"row","type":"ordinal","axis":null,"scale":{"type":"band","domain":["Cloud","ECMWF","Transp","Seeing","Dark","gap1","gap2","Smoke","Wind","Humid","Temp"],"range":[77,249],"paddingInner":0.25,"paddingOuter":0}}},
"layer":[
{"data":{"name":"cells"},"mark":"rect","encoding":{"x":{"field":"col","type":"ordinal","title":null,"scale":{"type":"band","domain":[0,1,2,3,4,5,6,7,8,9,10,11,12,13,14,15,16,17,18,19,20,21,22,23,24,25,26,27,28,29,30,31,32,33,34,35,36,37,38,39,40,41,42,43,44,45,46,47,48,49,50,51,52,53,54,55,56,57,58,59,60,61,62,63,64,65,66,67,68,69,70,71,72,73,74,75,76,77,78,79,80,81],"range":[134,1280],"paddingInner":0.142857,"paddingOuter":0},"axis":{"orient":"top","offset":-63,"title":null,"labelExpr":"''+((datum.value+3)%24%10)","labelColor":{"expr":"datum.value<21?'#66ff66':datum.value<45?'#ffff00':datum.value<69?'#ff7777':'#ff00ff'"}}},
"y":{"field":"row","type":"ordinal","title":null,"scale":{"type":"band","domain":["Cloud","ECMWF","Transp","Seeing","Dark","gap1","gap2","Smoke","Wind","Humid","Temp"],"range":[77,249],"paddingInner":0.25,"paddingOuter":0},"axis":{"orient":"left","offset":-14,"title":null,"labelAlign":"left","labelOffset":-2,"values":["Cloud","ECMWF","Transp","Seeing","Dark","Smoke","Wind","Humid","Temp"],"labelExpr":"{'Cloud':'Cloud Cover:','ECMWF':'ECMWF Cloud:','Transp':'Transparency:','Seeing':'Seeing:','Dark':'Darkness:','Smoke':'Smoke:','Wind':'Wind:','Humid':'Humidity:','Temp':'Temperature:'}[datum.value]","labelColor":{"expr":"datum.value=='Dark'?'#b06a30':'#ffffff'"}}}}},
{"data":{"name":"slices"},"mark":"rect","encoding":{"xOffset":{"field":"slice","type":"ordinal","scale":{"domain":[0,1,2,3,4,5]}},"x":{"field":"col","type":"ordinal","title":null,"scale":{"type":"band","domain":[0,1,2,3,4,5,6,7,8,9,10,11,12,13,14,15,16,17,18,19,20,21,22,23,24,25,26,27,28,29,30,31,32,33,34,35,36,37,38,39,40,41,42,43,44,45,46,47,48,49,50,51,52,53,54,55,56,57,58,59,60,61,62,63,64,65,66,67,68,69,70,71,72,73,74,75,76,77,78,79,80,81],"range":[134,1280],"paddingInner":0.142857,"paddingOuter":0},"axis":{"orient":"top","offset":-48,"title":null,"labelExpr":"(datum.value+3)%24>=10?''+floor((datum.value+3)%24/10):''","labelColor":{"expr":"datum.value<21?'#66ff66':datum.value<45?'#ffff00':datum.value<69?'#ff7777':'#ff00ff'"}}}}},
{"data":{"name":"joins"},"mark":{"type":"rect","width":4,"height":8,"xOffset":6}}
]},
{"resolve":{"axis":{"x":"independent","y":"independent"}},
"encoding":{"x":{"field":"col","type":"ordinal","axis":null,"scale":{"type":"band","domain":[0,1,2,3,4,5,6,7,8,9,10,11,12,13,14,15,16,17,18,19,20,21,22,23,24,25,26,27,28,29,30,31,32,33,34,35,36,37,38,39,40,41,42,43,44,45,46,47],"range":[134,804],"paddingInner":0.142857,"paddingOuter":0}},
"y":{"field":"row","type":"ordinal","axis":null,"scale":{"type":"band","domain":["Cloud","ECMWF","Dark"],"range":[337,381],"paddingInner":0.25,"paddingOuter":0}}},
"layer":[
{"data":{"name":"extCells"},"mark":"rect","encoding":{"x":{"field":"col","type":"ordinal","title":null,"scale":{"type":"band","domain":[0,1,2,3,4,5,6,7,8,9,10,11,12,13,14,15,16,17,18,19,20,21,22,23,24,25,26,27,28,29,30,31,32,33,34,35,36,37,38,39,40,41,42,43,44,45,46,47],"range":[134,804],"paddingInner":0.142857,"paddingOuter":0},"axis":{"orient":"top","offset":-323,"title":null,"labelExpr":"''+((15+3*datum.value)%24%10)","labelColor":{"expr":"datum.value<3?'#ff00ff':datum.value<11?'#6a6aff':datum.value<19?'#66ff66':datum.value<27?'#ffff00':datum.value<35?'#ff7777':datum.value<43?'#ff00ff':'#6a6aff'"}}},
"y":{"field":"row","type":"ordinal","title":null,"scale":{"type":"band","domain":["Cloud","ECMWF","Dark"],"range":[337,381],"paddingInner":0.25,"paddingOuter":0},"axis":{"orient":"left","offset":-14,"title":null,"labelAlign":"left","labelOffset":-2,"labelExpr":"{'Cloud':'Cloud Cover:','ECMWF':'ECMWF Cloud:','Dark':'Darkness:'}[datum.value]","labelColor":{"expr":"datum.value=='Dark'?'#b06a30':'#ffffff'"}}}}},
{"data":{"name":"extSlices"},"mark":"rect","encoding":{"xOffset":{"field":"slice","type":"ordinal","scale":{"domain":[0,1,2,3,4,5]}},"x":{"field":"col","type":"ordinal","title":null,"scale":{"type":"band","domain":[0,1,2,3,4,5,6,7,8,9,10,11,12,13,14,15,16,17,18,19,20,21,22,23,24,25,26,27,28,29,30,31,32,33,34,35,36,37,38,39,40,41,42,43,44,45,46,47],"range":[134,804],"paddingInner":0.142857,"paddingOuter":0},"axis":{"orient":"top","offset":-308,"title":null,"labelExpr":"(15+3*datum.value)%24>=10?''+floor((15+3*datum.value)%24/10):''","labelColor":{"expr":"datum.value<3?'#ff00ff':datum.value<11?'#6a6aff':datum.value<19?'#66ff66':datum.value<27?'#ffff00':datum.value<35?'#ff7777':datum.value<43?'#ff00ff':'#6a6aff'"}}}}},
{"data":{"name":"extJoins"},"mark":{"type":"rect","width":4,"height":8,"xOffset":6}}
]},
{"data":{"values":[{"col":21},{"col":45},{"col":69}]},"mark":{"type":"rect","width":2},"encoding":{"color":{"value":"#ff0000"},"x":{"field":"col","type":"quantitative","axis":null,"scale":{"domain":[0,82],"range":[134,1282],"zero":false,"nice":false}},"y":{"datum":0,"axis":null,"scale":{"domain":[0,1],"range":[77,249]}},"y2":{"datum":1}}},
{"data":{"values":[{"col":3},{"col":11},{"col":19},{"col":27},{"col":35},{"col":43}]},"mark":{"type":"rect","width":2},"encoding":{"color":{"value":"#ff0000"},"x":{"field":"col","type":"quantitative","axis":null,"scale":{"domain":[0,48],"range":[134,806],"zero":false,"nice":false}},"y":{"datum":0,"axis":null,"scale":{"domain":[0,1],"range":[337,381]}},"y2":{"datum":1}}},
{"encoding":{"x":{"field":"col","type":"quantitative","axis":null,"scale":{"domain":[0,82],"range":[134,1282],"zero":false,"nice":false}},"y":{"datum":"Date","type":"ordinal","title":null,"scale":{"type":"point","domain":["Date","s1","s2","s3","s4","Tens","s5","s6","s7","Zone","Ones"],"range":[35,65],"padding":0},"axis":{"orient":"left","offset":-2,"title":null,"labelAlign":"left","labelOffset":-2,"values":["Date","Tens","Zone"],"labelExpr":"{'Date':'2026-08-12','Tens':'Local Time','Zone':'(GMT -6+0)'}[datum.value]","labelColor":{"expr":"datum.value=='Date'?'#66ff66':'#cccc00'"},"labelFontSize":{"expr":"datum.value=='Zone'?8:15"},"labelFontWeight":{"expr":"datum.value=='Zone'?'bold':'normal'"}}},"text":{"field":"label"}},
"layer":[
{"data":{"values":[{"label":"Wednesday, 12","col":7,"lv":"green"},{"label":"Thursday, 13","col":31,"lv":"yellow"},{"label":"Friday, 14","col":55,"lv":"salmon"}]},"mark":{"type":"text","align":"left"}},
{"data":{"values":[{"label":"Saturday, 15","col":82,"lv":"magenta"}]},"mark":{"type":"text","align":"right","dx":2}},
{"data":{"values":[{"label":"Stansbury Park Observatory Complex (SPOC)","col":11,"lv":"yellow"}]},"mark":{"type":"text","align":"left","dx":-6,"dy":-23,"font":"DejaVu Sans Mono","fontSize":20,"fontWeight":"bold"}},
{"data":{"values":[{"label":"Clear Sky Chart","col":49,"lv":"cyan"}]},"mark":{"type":"text","align":"left","dx":2,"dy":-23,"font":"DejaVu Sans Mono","fontSize":20,"fontWeight":"bold"}}
]},
{"encoding":{"x":{"field":"col","type":"quantitative","axis":null,"scale":{"domain":[0,48],"range":[134,806],"zero":false,"nice":false}},"y":{"datum":"Date","type":"ordinal","title":null,"scale":{"type":"point","domain":["Notice","s1","s2","s3","s4","s5","Date","s6","s7","s8","s9","Tens","s10","s11","s12","Zone","Ones"],"range":[277,325],"padding":0},"axis":{"orient":"left","offset":-2,"title":null,"labelAlign":"left","labelOffset":-2,"values":["Date","Tens","Zone"],"labelExpr":"{'Date':'2026-08-15','Tens':'Local Time','Zone':'(GMT -6+0)'}[datum.value]","labelColor":{"expr":"datum.value=='Date'?'#ff00ff':'#cccc00'"},"labelFontSize":{"expr":"datum.value=='Zone'?8:15"},"labelFontWeight":{"expr":"datum.value=='Zone'?'bold':'normal'"}}},"text":{"field":"label"}},
"layer":[
{"data":{"values":[{"label":"Sa","col":0,"lv":"magenta"}]},"mark":{"type":"text","align":"left","dx":1}},
{"data":{"values":[{"label":"Sun, 16","col":6,"lv":"violet"},{"label":"Mon, 17","col":14,"lv":"green"},{"label":"Tue, 18","col":22,"lv":"yellow"},{"label":"Wed, 19","col":30,"lv":"salmon"},{"label":"Thu, 20","col":38,"lv":"magenta"}]},"mark":{"type":"text","align":"left","dx":4}},
{"data":{"values":[{"label":"Fri, 21","col":48,"lv":"violet"}]},"mark":{"type":"text","align":"right","dx":2}},
{"data":{"values":[{"label":"EXTENDED Forecast. Each block is 3 hours. (A sponsored feature)","col":-10}]},"mark":{"type":"text","align":"left","dx":6,"dy":-18},"encoding":{"color":{"value":"#ff0000"}}},
{"data":{"values":[{"label":"© 2026 Attilla Danko\u00a0\u00a0forecast: A.Rahill\u00a0\u00a0data:","col":15}]},"mark":{"type":"text","align":"left","dx":-2,"dy":120},"encoding":{"color":{"value":"#ffffff"}}}
]},
{"data":{"values":[{}]},"encoding":{"x":{"datum":0,"axis":null,"scale":{"domain":[0,1],"range":[0,12]}},"y":{"datum":0,"axis":null,"scale":{"domain":[0,1],"range":[77,153]}}},
"layer":[
{"mark":"rect","encoding":{"color":{"value":"#0060f0"},"x2":{"datum":1},"y2":{"datum":1}}},
{"mark":{"type":"text","angle":270,"fontSize":11.5,"align":"center"},"encoding":{"color":{"value":"#ffee00"},"x":{"datum":0.5,"axis":null},"y":{"datum":0.5,"axis":null},"text":{"value":"-- Sky --"}}}
]},
{"data":{"values":[{}]},"encoding":{"x":{"datum":0,"axis":null,"scale":{"domain":[0,1],"range":[0,12]}},"y":{"datum":0,"axis":null,"scale":{"domain":[0,1],"range":[189,249]}}},
"layer":[
{"mark":"rect","encoding":{"color":{"value":"#3f6000"},"x2":{"datum":1},"y2":{"datum":1}}},
{"mark":{"type":"text","angle":270,"fontSize":10,"align":"center"},"encoding":{"color":{"value":"#ffffff"},"x":{"datum":0.5,"axis":null},"y":{"datum":0.5,"axis":null},"text":{"value":"- Ground -"}}}
]},
{"data":{"values":[{}]},"encoding":{"x":{"datum":0,"axis":null,"scale":{"domain":[0,1],"range":[0,12]}},"y":{"datum":0,"axis":null,"scale":{"domain":[0,1],"range":[337,381]}}},
"layer":[
{"mark":"rect","encoding":{"color":{"value":"#0060f0"},"x2":{"datum":1},"y2":{"datum":1}}},
{"mark":{"type":"text","angle":270,"fontSize":11.5,"align":"center"},"encoding":{"color":{"value":"#ffee00"},"x":{"datum":0.5,"axis":null},"y":{"datum":0.5,"axis":null},"text":{"value":"- Sky -"}}}
]},
{"data":{"values":[{}]},"encoding":{"x":{"datum":0,"axis":null,"scale":{"domain":[0,166],"range":[775,941]}},"y":{"datum":0,"axis":null,"scale":{"domain":[0,16],"range":[408,424]}}},
"layer":[
{"mark":"rect","encoding":{"color":{"value":"#ffffff"},"x2":{"datum":166},"y2":{"datum":16}}},
{"mark":"rect","encoding":{"color":{"value":"#ee1111"},"x2":{"datum":8},"y2":{"datum":16}}},
{"mark":"rect","encoding":{"color":{"value":"#ee1111"},"x":{"datum":19,"axis":null},"x2":{"datum":27},"y2":{"datum":16}}},
{"mark":{"type":"point","shape":"diamond","filled":true,"size":50,"opacity":1},"encoding":{"color":{"value":"#ee1111"},"x":{"datum":13.5,"axis":null},"y":{"datum":8,"axis":null}}},
{"mark":{"type":"text","align":"left","font":"Liberation Sans","fontSize":8},"encoding":{"color":{"value":"#000000"},"x":{"datum":40,"axis":null},"y":{"datum":4.5,"axis":null},"text":{"value":"Environment"}}},
{"mark":{"type":"text","align":"left","font":"Liberation Sans","fontSize":8},"encoding":{"color":{"value":"#000000"},"x":{"datum":40,"axis":null},"y":{"datum":12,"axis":null},"text":{"value":"Canada"}}},
{"mark":{"type":"text","align":"left","font":"Liberation Sans","fontSize":8},"encoding":{"color":{"value":"#000000"},"x":{"datum":105,"axis":null},"y":{"datum":4.5,"axis":null},"text":{"value":"Environnement"}}},
{"mark":{"type":"text","align":"left","font":"Liberation Sans","fontSize":8},"encoding":{"color":{"value":"#000000"},"x":{"datum":105,"axis":null},"y":{"datum":12,"axis":null},"text":{"value":"Canada"}}}
]}
]
}
